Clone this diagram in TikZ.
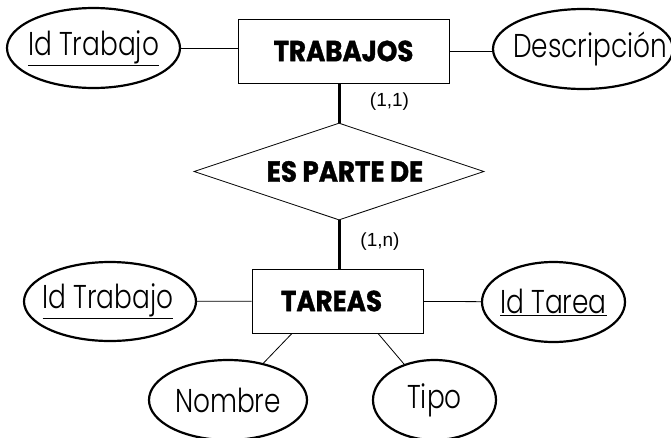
\documentclass[tikz,border=0pt]{standalone}
\usepackage{fontspec}
\setmainfont{Poppins}
\newfontfamily\attrfont[FakeStretch=0.8]{Poppins Light}
\newfontfamily\entfont[FakeStretch=0.9,FakeBold=1.2]{Poppins Bold}
\newfontfamily\cardfont{Liberation Sans}
\usetikzlibrary{shapes.geometric}
\newcommand{\attrtext}[1]{\makebox[0pt]{#1}}
\begin{document}
\begin{tikzpicture}[x=1pt,y=-1pt,
  attr/.style={draw,ellipse,line width=2.2pt,inner sep=0pt,font=\attrfont\fontsize{33}{36}\selectfont},
  ent/.style={draw,rectangle,line width=0.8pt,inner sep=0pt,font=\entfont\fontsize{29}{32}\selectfont},
  rel/.style={draw,diamond,line width=0.8pt,inner sep=0pt,font=\entfont\fontsize{29}{32}\selectfont},
  link/.style={line width=0.8pt},
  thick link/.style={line width=3pt},
  card/.style={font=\cardfont\fontsize{19}{22}\selectfont}]
\useasboundingbox (0,0) rectangle (671,437);
\node[ent,minimum width=211pt,minimum height=64pt] (trab) at (343.5,51) {TRABAJOS};
\node[attr,minimum width=173pt,minimum height=80pt] (idt1) at (93.5,48) {\attrtext{\underline{Id Trabajo}}};
\node[attr,minimum width=180pt,minimum height=80pt] (desc) at (583,49) {\attrtext{\kern14pt Descripción}};
\node[rel,minimum width=290pt,minimum height=97pt,aspect=2.99] (rel) at (339,171.5) {\makebox[0pt]{\kern12pt ES PARTE DE}};
\node[ent,minimum width=171pt,minimum height=64pt] (tar) at (337.5,301) {\makebox[0pt]{\kern-12pt TAREAS}};
\node[attr,minimum width=172pt,minimum height=79pt] (idt2) at (110,301.5) {\attrtext{\kern-4pt\underline{Id Trabajo}}};
\node[attr,minimum width=143pt,minimum height=80pt] (idta) at (553.5,302) {\attrtext{\underline{Id Tarea}}};
\node[attr,minimum width=158pt,minimum height=80pt] (nom) at (228,400) {\attrtext{Nombre}};
\node[attr,minimum width=123pt,minimum height=80pt] (tipo) at (434.5,400) {\attrtext{Tipo}};
\draw[link] (idt1.east |- 0,48) -- (trab.west |- 0,48);
\draw[link] (trab.east |- 0,51) -- (desc.west |- 0,51);
\draw[thick link] (trab.south -| rel.north) -- (rel.north);
\draw[thick link] (rel.south) -- (rel.south |- tar.north);
\draw[link] (idt2) -- (tar);
\draw[link] (tar) -- (idta);
\coordinate (tn) at ([xshift=-45.5pt]tar.south);
\coordinate (tt) at ([xshift=40.5pt]tar.south);
\draw[link] (tn) -- (nom);
\draw[link] (tt) -- (tipo);
\node[card] (c1) at (389.5,101.5) {(1,1)};
\node[card] (c2) at (380,242) {(1,n)};
\end{tikzpicture}
\end{document}
